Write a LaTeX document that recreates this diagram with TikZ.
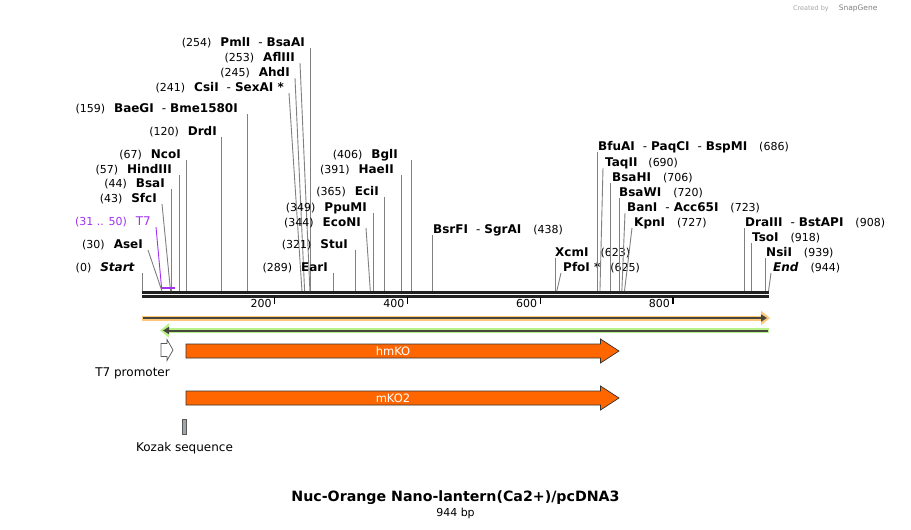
\documentclass[tikz,border=0pt]{standalone}
\usepackage{fontspec}
\setmainfont{DejaVu Sans}
\usetikzlibrary{arrows.meta}
\definecolor{cutgray}{RGB}{128,128,128}
\definecolor{axisblack}{RGB}{34,34,34}
\definecolor{bandorange}{RGB}{255,200,120}
\definecolor{bandgreen}{RGB}{184,240,138}
\definecolor{bardark}{RGB}{70,70,60}
\definecolor{cdsorange}{RGB}{255,102,0}
\definecolor{kozakgray}{RGB}{160,164,171}
\definecolor{tsevenpurple}{RGB}{160,50,240}

\newcommand\numfont{\fontsize{11}{13}\selectfont\mdseries}
\newcommand\sitepos[1]{{\numfont(#1)}}
\newcommand\orsep{\hspace{8pt}{\mdseries -}\hspace{4pt}}
\newcommand\bpx[1]{142+0.6637*#1}

\tikzset{
  site/.style={anchor=east, inner xsep=5pt, inner ysep=0pt, text height=9pt, text depth=0pt, font=\fontsize{12}{14}\selectfont\bfseries},
  siteR/.style={site, anchor=west, inner xsep=2pt},
  cutline/.style={draw=cutgray, line width=0.9pt},
  ticklabel/.style={anchor=east, inner sep=1pt, font=\fontsize{11}{13}\selectfont},
  cds/.style={fill=cdsorange, draw=black!80, line width=0.7pt},
  featlabel/.style={inner sep=1pt, font=\fontsize{12}{14}\selectfont},
}

\begin{document}
\begin{tikzpicture}[x=1pt, y=-1pt]
	\fill[white] (0,0) rectangle (911,530);
	\useasboundingbox (0,0) rectangle (911,530);

	% Achse
	\draw[axisblack, line width=3.3pt] (142,292.3) -- (769,292.3);
	\draw[axisblack, line width=2.7pt] (142,296.4) -- (769,296.4);
	\draw[black, line width=1.3pt] ({\bpx{200}},297) -- ({\bpx{200}},304);
	\draw[black, line width=1.3pt] ({\bpx{400}},297) -- ({\bpx{400}},304);
	\draw[black, line width=1.3pt] ({\bpx{600}},297) -- ({\bpx{600}},304);
	\draw[black, line width=1.3pt] ({\bpx{800}},297) -- ({\bpx{800}},304);
	\node[ticklabel] (t200) at ({\bpx{200}-2},303) {200};
	\node[ticklabel] (t400) at ({\bpx{400}-2},303) {400};
	\node[ticklabel] (t600) at ({\bpx{600}-2},303) {600};
	\node[ticklabel] (t800) at ({\bpx{800}-2},303) {800};

	% Schnittstellen auf der Achse
	\coordinate (s0) at ({\bpx{0}},291);
	\coordinate (s30) at ({\bpx{30}},291);
	\coordinate (s43) at ({\bpx{43}},291);
	\coordinate (s44) at ({\bpx{44}},291);
	\coordinate (s57) at ({\bpx{57}},291);
	\coordinate (s67) at ({\bpx{67}},291);
	\coordinate (s120) at ({\bpx{120}},291);
	\coordinate (s159) at ({\bpx{159}},291);
	\coordinate (s241) at ({\bpx{241}},291);
	\coordinate (s245) at ({\bpx{245}},291);
	\coordinate (s253) at ({\bpx{253}},291);
	\coordinate (s254) at ({\bpx{254}},291);
	\coordinate (s289) at ({\bpx{289}},291);
	\coordinate (s321) at ({\bpx{321}},291);
	\coordinate (s344) at ({\bpx{344}},291);
	\coordinate (s349) at ({\bpx{349}},291);
	\coordinate (s365) at ({\bpx{365}},291);
	\coordinate (s391) at ({\bpx{391}},291);
	\coordinate (s406) at ({\bpx{406}},291);
	\coordinate (s438) at ({\bpx{438}},291);
	\coordinate (s623) at ({\bpx{623}},291);
	\coordinate (s625) at ({\bpx{625}},291);
	\coordinate (s686) at ({\bpx{686}},291);
	\coordinate (s690) at ({\bpx{690}},291);
	\coordinate (s706) at ({\bpx{706}},291);
	\coordinate (s720) at ({\bpx{720}},291);
	\coordinate (s723) at ({\bpx{723}},291);
	\coordinate (s727) at ({\bpx{727}},291);
	\coordinate (s908) at ({\bpx{908}},291);
	\coordinate (s918) at ({\bpx{918}},291);
	\coordinate (s939) at ({\bpx{939}},291);
	\coordinate (s944) at ({\bpx{944}},291);

	% --- linke Gruppe ---
	\node[site] (pmlI) at (310,42) {\sitepos{254}\hspace{9pt}PmlI\orsep BsaAI};
	\node[site] (aflIII) at (300,57) {\sitepos{253}\hspace{9pt}AflIII};
	\node[site] (ahdI) at (295,72) {\sitepos{245}\hspace{9pt}AhdI};
	\node[site] (csiI) at (289,87) {\sitepos{241}\hspace{9pt}CsiI\orsep SexAI *};
	\node[site] (baeGI) at (243,108) {\sitepos{159}\hspace{9pt}BaeGI\orsep Bme1580I};
	\node[site] (drdI) at (222,131) {\sitepos{120}\hspace{9pt}DrdI};
	\node[site] (ncoI) at (186,154) {\sitepos{67}\hspace{9pt}NcoI};
	\node[site] (hindIII) at (177,169) {\sitepos{57}\hspace{9pt}HindIII};
	\node[site] (bsaI) at (170,183) {\sitepos{44}\hspace{9pt}BsaI};
	\node[site] (sfcI) at (162,198) {\sitepos{43}\hspace{9pt}SfcI};
	\node[site, text=tsevenpurple, font=\fontsize{12}{14}\selectfont] (tseven) at (156,221) {\sitepos{31 .. 50}\hspace{9pt}T7};
	\node[site] (aseI) at (148,244) {\sitepos{30}\hspace{9pt}AseI};
	\node[site] (start) at (140,267) {\sitepos{0}\hspace{9pt}\textit{Start}};

	\draw[cutline] ([yshift=-6pt]pmlI.east -| s254) -- (s254);
	\draw[cutline] ([yshift=-6pt]aflIII.east) -- (s253);
	\draw[cutline] ([yshift=-6pt]ahdI.east) -- (s245);
	\draw[cutline] ([yshift=-6pt]csiI.east) -- (s241);
	\draw[cutline] ([yshift=-6pt]baeGI.east -| s159) -- (s159);
	\draw[cutline] ([yshift=-6pt]drdI.east -| s120) -- (s120);
	\draw[cutline] ([yshift=-6pt]ncoI.east -| s67) -- (s67);
	\draw[cutline] ([yshift=-6pt]hindIII.east -| s57) -- (s57);
	\draw[cutline] ([yshift=-6pt]bsaI.east -| s44) -- (s44);
	\draw[cutline] ([yshift=-6pt]sfcI.east) -- (s43);
	\draw[cutline] ([yshift=-6pt]aseI.east) -- (s30);
	\draw[cutline] ([yshift=-6pt]start.east -| s0) -- (s0);

	% T7-Bindestelle
	\draw[tsevenpurple, line width=2pt] (161,288) -- (174.5,288);
	\coordinate (tsevenbar) at (161.5,287);
	\draw[tsevenpurple, line width=0.9pt] ([yshift=-6pt]tseven.east) -- (tsevenbar);

	% --- Mitte ---
	\node[site] (earI) at (333,267) {\sitepos{289}\hspace{9pt}EarI};
	\node[site] (stuI) at (353,244) {\sitepos{321}\hspace{9pt}StuI};
	\node[site] (ecoNI) at (366,222) {\sitepos{344}\hspace{9pt}EcoNI};
	\node[site] (ppuMI) at (372,207) {\sitepos{349}\hspace{9pt}PpuMI};
	\node[site] (eciI) at (384,191) {\sitepos{365}\hspace{9pt}EciI};
	\node[site] (haeII) at (399,169) {\sitepos{391}\hspace{9pt}HaeII};
	\node[site] (bglI) at (403,154) {\sitepos{406}\hspace{9pt}BglI};

	\draw[cutline] ([yshift=-6pt]earI.east -| s289) -- (s289);
	\draw[cutline] ([yshift=-6pt]stuI.east -| s321) -- (s321);
	\draw[cutline] ([yshift=-6pt]ecoNI.east) -- (s344);
	\draw[cutline] ([yshift=-6pt]ppuMI.east -| s349) -- (s349);
	\draw[cutline] ([yshift=-6pt]eciI.east -| s365) -- (s365);
	\draw[cutline] ([yshift=-6pt]haeII.east -| s391) -- (s391);
	\draw[cutline] ([yshift=-6pt]bglI.east -| s406) -- (s406);

	% --- rechte Gruppe ---
	\node[siteR] (bsrFI) at (431,229) {BsrFI\orsep SgrAI\hspace{12pt}\sitepos{438}};
	\node[siteR] (xcmI) at (553,252) {XcmI\hspace{12pt}\sitepos{623}};
	\node[siteR] (pfoI) at (561,267) {PfoI *\hspace{10pt}\sitepos{625}};
	\node[siteR] (bfuAI) at (596,146) {BfuAI\orsep PaqCI\orsep BspMI\hspace{12pt}\sitepos{686}};
	\node[siteR] (taqII) at (603,162) {TaqII\hspace{11pt}\sitepos{690}};
	\node[siteR] (bsaHI) at (610,177) {BsaHI\hspace{12pt}\sitepos{706}};
	\node[siteR] (bsaWI) at (617,192) {BsaWI\hspace{12pt}\sitepos{720}};
	\node[siteR] (banI) at (625,207) {BanI\orsep Acc65I\hspace{12pt}\sitepos{723}};
	\node[siteR] (kpnI) at (632,222) {KpnI\hspace{12pt}\sitepos{727}};
	\node[siteR] (draIII) at (743,222) {DraIII\orsep BstAPI\hspace{12pt}\sitepos{908}};
	\node[siteR] (tsoI) at (750,237) {TsoI\hspace{12pt}\sitepos{918}};
	\node[siteR] (nsiI) at (764,252) {NsiI\hspace{12pt}\sitepos{939}};
	\node[siteR] (endsite) at (771,267) {\textit{End}\hspace{12pt}\sitepos{944}};

	\draw[cutline] ([yshift=-6pt]bsrFI.west -| s438) -- (s438);
	\draw[cutline] ([yshift=-6pt]xcmI.west -| s623) -- (s623);
	\draw[cutline] ([yshift=-6pt]pfoI.west) -- (s625);
	\draw[cutline] ([yshift=-6pt]bfuAI.west -| s686) -- (s686);
	\draw[cutline] ([yshift=-6pt]taqII.west) -- (s690);
	\draw[cutline] ([yshift=-6pt]bsaHI.west -| s706) -- (s706);
	\draw[cutline] ([yshift=-6pt]bsaWI.west -| s720) -- (s720);
	\draw[cutline] ([yshift=-6pt]banI.west) -- (s723);
	\draw[cutline] ([yshift=-6pt]kpnI.west) -- (s727);
	\draw[cutline] ([yshift=-6pt]draIII.west -| s908) -- (s908);
	\draw[cutline] ([yshift=-6pt]tsoI.west -| s918) -- (s918);
	\draw[cutline] ([yshift=-6pt]nsiI.west -| s939) -- (s939);
	\draw[cutline] ([yshift=-6pt]endsite.west) -- (s944);

	% Leserahmen-Balken
	\draw[bandorange, line width=5pt, -{Triangle[length=9pt, width=14pt]}] (142,318) -- (770,318);
	\draw[bardark, line width=2pt, -{Triangle[length=6pt, width=7pt]}] (143,318) -- (767,318);
	\draw[bandgreen, line width=5pt, {Triangle[length=9pt, width=14pt]}-] (160,330.5) -- (769,330.5);
	\draw[bardark, line width=2pt, {Triangle[length=6pt, width=7pt]}-] (163,330.5) -- (768,330.5);

	% Features
	\draw[fill=white, draw=black!65, line width=0.7pt] (161,343.5) -- (167,343.5) -- (167,339.5) -- (173,350) -- (167,360.5) -- (167,356.5) -- (161,356.5) -- cycle;
	\node[featlabel, anchor=east] (tsevenprom) at (171,373) {T7 promoter};

	\draw[cds] (186,344) -- (600.5,344) -- (600.5,339) -- (619,351) -- (600.5,363) -- (600.5,358) -- (186,358) -- cycle;
	\node[featlabel, text=white, font=\fontsize{11.5}{14}\selectfont] (hmko) at (393,351) {hmKO};

	\draw[cds] (186,391) -- (600.5,391) -- (600.5,386) -- (619,398) -- (600.5,410) -- (600.5,405) -- (186,405) -- cycle;
	\node[featlabel, text=white, font=\fontsize{11.5}{14}\selectfont] (mkotwo) at (393,398) {mKO2};

	\draw[fill=kozakgray, draw=black!65, line width=0.7pt] (182.3,419) rectangle (186.3,434);
	\node[featlabel] (kozak) at (184.5,448) {Kozak sequence};

	% Titel
	\node[font=\fontsize{14.2}{17}\selectfont\bfseries] (title) at (455.5,498) {Nuc-Orange Nano-lantern(Ca2+)/pcDNA3};
	\node[font=\fontsize{11}{13}\selectfont] (length) at (455.5,513) {944 bp};
	\node[anchor=east, text=black!35, font=\fontsize{6.5}{8}\selectfont] (created) at (881,8) {Created by\hspace{10pt}{\fontsize{7.5}{9}\selectfont\color{black!50}SnapGene}};

\end{tikzpicture}
\end{document}
